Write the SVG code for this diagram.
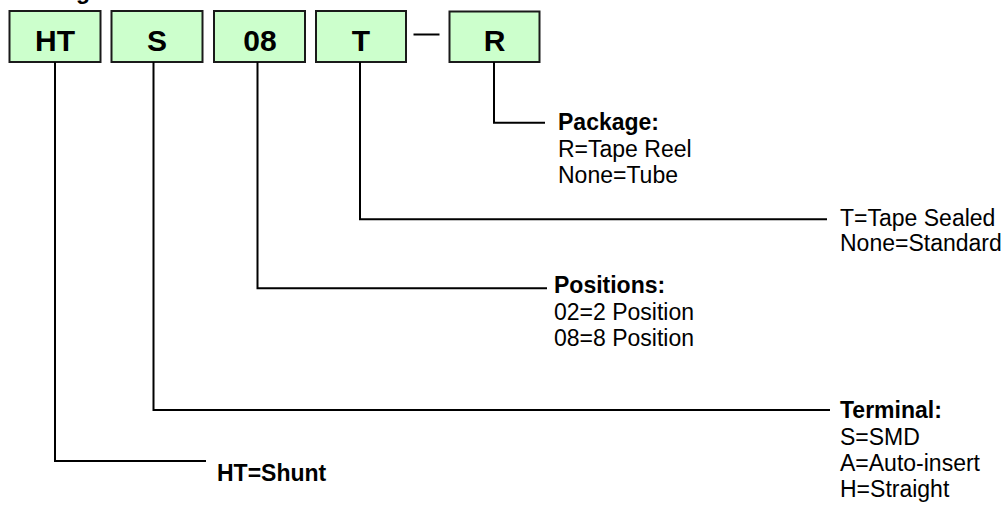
<svg xmlns="http://www.w3.org/2000/svg" width="1008" height="505" viewBox="0 0 1008 505">
<style>
.box{fill:#ccffcc;stroke:#1a1a1a;stroke-width:2}
.code{font-family:"Liberation Sans",Arial,sans-serif;font-weight:bold;font-size:30px;fill:#000;text-anchor:middle}
.ln{fill:none;stroke:#000;stroke-width:2}
.t{font-family:"Liberation Sans",Arial,sans-serif;font-size:23px;fill:#000}
.b{font-weight:bold}
</style>
<rect width="1008" height="505" fill="#fff"/>
<text x="76" y="-1" class="t b" font-size="28">g</text>
<g id="node-HT"><rect class="box" x="9.5" y="11" width="91" height="51"/><text class="code" x="55" y="51">HT</text></g>
<g id="node-S"><rect class="box" x="111.5" y="11" width="91" height="51"/><text class="code" x="157" y="51">S</text></g>
<g id="node-08"><rect class="box" x="214" y="11" width="91" height="51"/><text class="code" x="260" y="51">08</text></g>
<g id="node-T"><rect class="box" x="316" y="11" width="90" height="51"/><text class="code" x="361" y="51">T</text></g>
<g id="node-dash"><line class="ln" x1="413.5" y1="34.5" x2="439.5" y2="34.5"/></g>
<g id="node-R"><rect class="box" x="449.5" y="11.5" width="90" height="50.5"/><text class="code" x="494.5" y="51">R</text></g>
<g id="connectors">
<polyline class="ln" points="494,62 494,122.7 545,122.7"/>
<polyline class="ln" points="360,62 360,219.3 827,219.3"/>
<polyline class="ln" points="257.5,62 257.5,288.3 547,288.3"/>
<polyline class="ln" points="153.5,62 153.5,410 830,410"/>
<polyline class="ln" points="55,62 55,461 206,461"/>
</g>
<g id="label-package"><text class="t b" x="558" y="130">Package:</text><text class="t" x="558" y="156.5">R=Tape Reel</text><text class="t" x="558" y="183">None=Tube</text></g>
<g id="label-t"><text class="t" x="840" y="226">T=Tape Sealed</text><text class="t" x="840" y="251">None=Standard</text></g>
<g id="label-positions"><text class="t b" x="554" y="293">Positions:</text><text class="t" x="554" y="320">02=2 Position</text><text class="t" x="554" y="346">08=8 Position</text></g>
<g id="label-terminal"><text class="t b" x="840" y="418">Terminal:</text><text class="t" x="840" y="444.5">S=SMD</text><text class="t" x="840" y="470.5">A=Auto-insert</text><text class="t" x="840" y="496.5">H=Straight</text></g>
<g id="label-ht"><text class="t b" x="217" y="481" font-size="26">HT=Shunt</text></g>
</svg>
